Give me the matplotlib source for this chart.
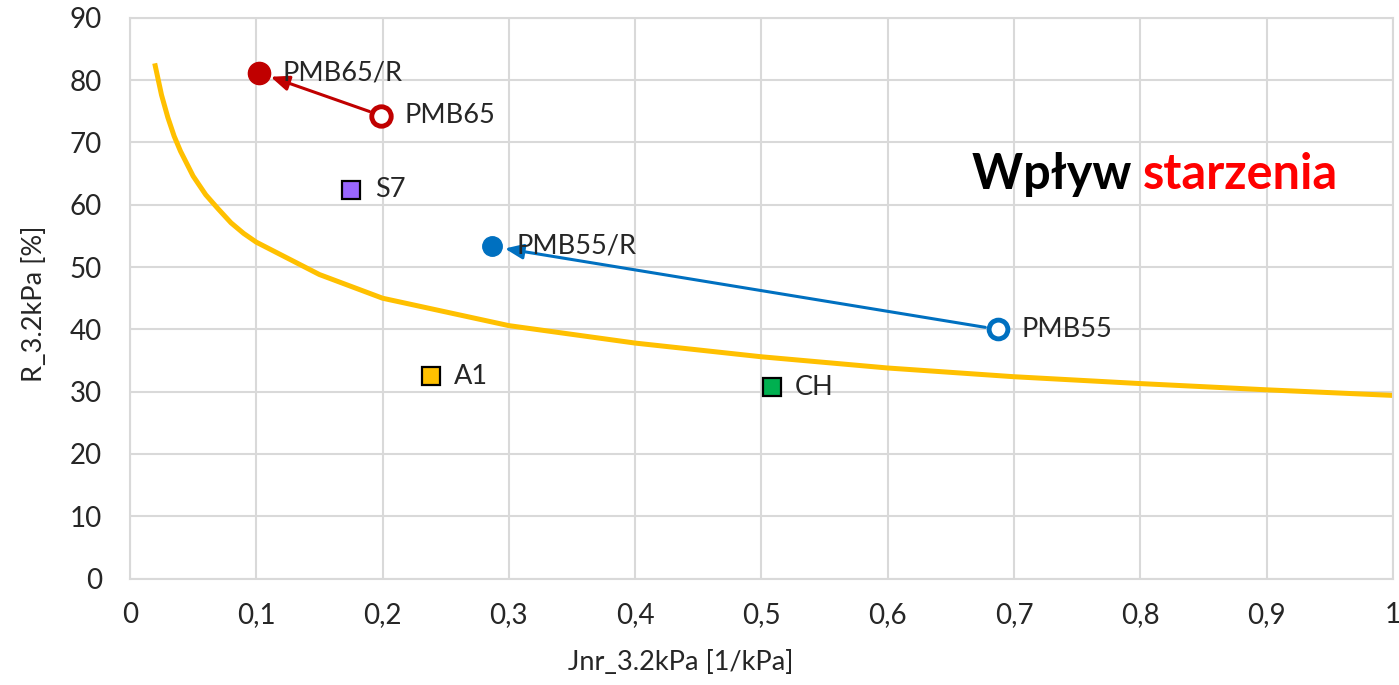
import numpy as np
import matplotlib.pyplot as plt
from matplotlib.ticker import FuncFormatter, MultipleLocator

plt.rcParams['font.family'] = ['Lato', 'DejaVu Sans']

# reference curve
curve_x = [0.02, 0.025, 0.03, 0.035, 0.04, 0.05, 0.06, 0.07, 0.08, 0.09, 0.1, 0.15, 0.2,
           0.3, 0.4, 0.5, 0.6, 0.7, 0.8, 0.9, 1.0]
curve_y = [82.3, 77.6, 74.0, 71.0, 68.6, 64.6, 61.6, 59.3, 57.1, 55.4, 54.0, 48.8, 45.0,
           40.6, 37.8, 35.6, 33.8, 32.4, 31.3, 30.3, 29.4]

# binders
names = ['PMB65/R', 'PMB65', 'S7', 'PMB55/R', 'PMB55', 'A1', 'CH']
jnr = [0.102, 0.199, 0.175, 0.287, 0.687, 0.238, 0.508]
rec = [81.2, 74.3, 62.4, 53.3, 40.0, 32.5, 30.7]

# aging arrows: (from, to)
arrows = [('PMB65', 'PMB65/R'), ('PMB55', 'PMB55/R')]

RED = '#C00000'
BLUE = '#0070C0'
styles = {
    'PMB65/R': dict(marker='o', ms=16, mfc=RED, mec=RED, mew=1),
    'PMB65':   dict(marker='o', ms=14, mfc='white', mec=RED, mew=3.5),
    'S7':      dict(marker='s', ms=13.5, mfc='#9966FF', mec='black', mew=1.6),
    'PMB55/R': dict(marker='o', ms=14, mfc=BLUE, mec=BLUE, mew=1),
    'PMB55':   dict(marker='o', ms=13.5, mfc='white', mec=BLUE, mew=3.5),
    'A1':      dict(marker='s', ms=13.5, mfc='#FFC000', mec='black', mew=1.6),
    'CH':      dict(marker='s', ms=13.5, mfc='#00B050', mec='black', mew=1.6),
}
arrow_colors = {'PMB65': RED, 'PMB55': BLUE}

fig = plt.figure(figsize=(13.99, 6.85), dpi=100)
ax = fig.add_axes([0.0929, 0.1553, 0.9028, 0.8187])

ax.plot(curve_x, curve_y, color='#FFC000', lw=3.6, zorder=2)

pos = dict(zip(names, zip(jnr, rec)))
for a, b in arrows:
    ax.annotate('', xy=pos[b], xytext=pos[a],
                arrowprops=dict(arrowstyle='-|>,head_length=1.1,head_width=0.45',
                                color=arrow_colors[a], lw=2.2,
                                shrinkA=9, shrinkB=9), zorder=3)

for n, x, y in zip(names, jnr, rec):
    ax.plot([x], [y], ls='none', zorder=4, **styles[n])
    ax.annotate(n, (x, y), xytext=(17, 0), textcoords='offset points',
                va='center', ha='left', fontsize=19.5, color='#262626', zorder=5)

ax.set_xlim(0, 1)
ax.set_ylim(0, 90)
ax.xaxis.set_major_locator(MultipleLocator(0.1))
ax.yaxis.set_major_locator(MultipleLocator(10))
ax.xaxis.set_major_formatter(FuncFormatter(
    lambda v, p: ('%g' % round(v, 2)).replace('.', ',')))
ax.grid(True, color='#D9D9D9', lw=1.5)
ax.set_axisbelow(True)
for s in ax.spines.values():
    s.set_color('#D9D9D9')
    s.set_linewidth(1.5)
ax.tick_params(length=0, labelsize=20, labelcolor='#262626')
ax.tick_params(axis='x', pad=17)
ax.tick_params(axis='y', pad=20)

ax.set_xlabel('Jnr_3.2kPa [1/kPa]', fontsize=19.5, color='#262626')
ax.xaxis.set_label_coords(0.436, -0.128)
ax.set_ylabel('R_3.2kPa [%]', fontsize=19.5, color='#262626')
ax.yaxis.set_label_coords(-0.066, 0.49)

ax.text(0.802, 0.72, 'Wpływ ', transform=ax.transAxes, ha='right', va='center',
        fontsize=35, fontweight='bold', color='black')
ax.text(0.802, 0.72, 'starzenia', transform=ax.transAxes, ha='left', va='center',
        fontsize=35, fontweight='bold', color='#FF0000')

fig.savefig('out.png', dpi=100)
